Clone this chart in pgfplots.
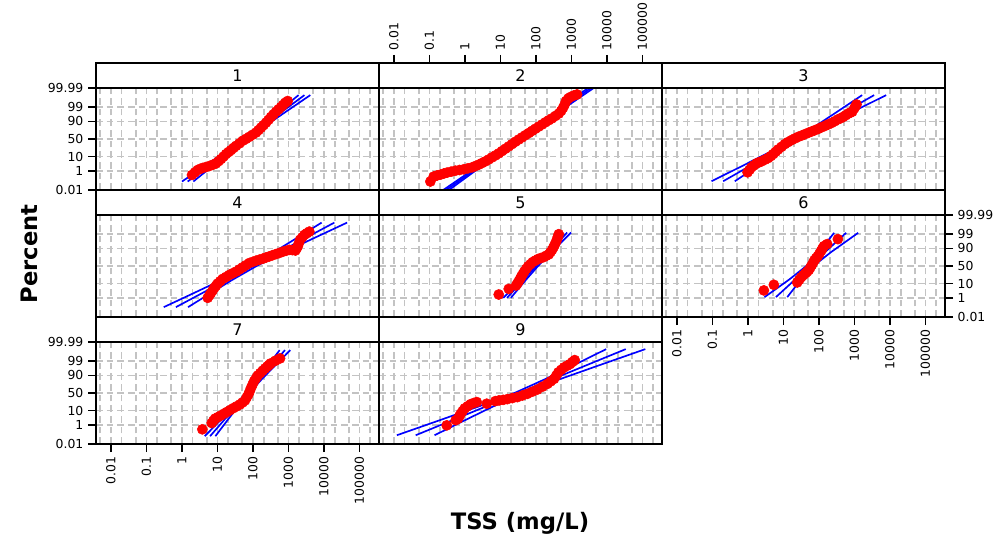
\documentclass[border=0pt]{standalone}
\usepackage{pgfplots}
\pgfplotsset{compat=1.18}
\usepackage{fontspec}
\setmainfont{DejaVu Sans}
\definecolor{gridgray}{RGB}{195,195,195}
\definecolor{dotred}{RGB}{255,0,0}
\definecolor{fitblue}{RGB}{0,0,255}
\pgfplotsset{
  panel/.style={
    anchor=south west, scale only axis,
    width=212.25pt, height=76.5pt,
    xmin=-2.42, xmax=5.55, ymin=-3.719, ymax=3.719,
    axis line style={line width=1.5pt},
    xtick={-2,-1,0,1,2,3,4,5},
    minor xtick={-2.301,-1.699,-1.301,-0.699,-0.301,0.301,0.699,1.301,1.699,2.301,2.699,3.301,3.699,4.301,4.699,5.301},
    ytick={-3.719,-2.326,-1.2816,0,1.2816,2.326,3.719},
    xmajorgrids, xminorgrids, ymajorgrids,
    major grid style={gridgray, line width=1.3pt, dash pattern=on 5pt off 3pt},
    minor grid style={gridgray, line width=1.3pt, dash pattern=on 5pt off 3pt},
    tick align=outside, major tick length=6pt, minor tick length=0pt,
    xtick style={draw=none}, ytick style={draw=none},
    xticklabel=\empty, yticklabel=\empty,
    tick label style={font=\fontsize{9.3}{11}\selectfont},
  },
  xbottom/.style={xtick pos=left, xticklabel pos=left, xtick style={draw=black, line width=1.2pt},
    xticklabels={0.01,0.1,1,10,100,1000,10000,100000}, xticklabel style={rotate=90, anchor=east}},
  xtop/.style={xtick pos=right, xticklabel pos=right, xtick style={draw=black, line width=1.2pt},
    xticklabels={0.01,0.1,1,10,100,1000,10000,100000}, xticklabel style={rotate=90, anchor=west}},
  yleft/.style={ytick pos=left, yticklabel pos=left, ytick style={draw=black, line width=1.2pt},
    yticklabels={0.01,1,10,50,90,99,99.99}},
  yright/.style={ytick pos=right, yticklabel pos=right, ytick style={draw=black, line width=1.2pt},
    yticklabels={0.01,1,10,50,90,99,99.99}},
  fitline/.style={fitblue, line width=1.25pt, no marks},
  dots/.style={only marks, mark=*, mark size=3.8pt, color=dotred, mark options={fill=dotred, draw=dotred}},
}
\begin{document}
\begin{tikzpicture}
\useasboundingbox (0pt,0pt) rectangle (747.75pt,408pt);
% x = log10 TSS (mg/L), y = normal score of the percent
% ---------- Panel 1
\begin{axis}[panel, yleft, at={(72pt,265.5pt)}]
\addplot[fitline] coordinates {(0.162,-3.1) (3.450,3.2)};
\addplot[fitline] coordinates {(0.002,-3.1) (0.626,-2) (1.188,-1) (1.730,0) (2.232,1) (2.714,2) (3.285,3.2)};
\addplot[fitline] coordinates {(0.322,-3.1) (0.846,-2) (1.328,-1) (1.830,0) (2.372,1) (2.934,2) (3.615,3.2)};
\addplot[dots] coordinates {(0.284,-2.62) (0.364,-2.44) (0.444,-2.26) (0.515,-2.18) (0.585,-2.11) (0.680,-2.04) (0.773,-1.97) (0.867,-1.88) (0.960,-1.78) (1.030,-1.62) (1.101,-1.46) (1.172,-1.28) (1.242,-1.10) (1.313,-0.95) (1.383,-0.81) (1.454,-0.65) (1.524,-0.50) (1.620,-0.32) (1.711,-0.13) (1.805,0.01) (1.899,0.157) (1.990,0.31) (2.087,0.47) (2.158,0.65) (2.228,0.83) (2.299,1.01) (2.369,1.196) (2.439,1.40) (2.509,1.61) (2.580,1.80) (2.650,1.99) (2.720,2.16) (2.791,2.33) (2.852,2.49) (2.913,2.65) (2.979,2.77)};
\end{axis}
% ---------- Panel 2
\begin{axis}[panel, at={(284.25pt,265.5pt)}]
\addplot[fitline] coordinates {(-0.531,-3.72) (3.547,3.72)};
\addplot[fitline] coordinates {(-0.611,-3.72) (0.362,-2) (1.478,0) (2.554,2) (3.467,3.72)};
\addplot[fitline] coordinates {(-0.451,-3.72) (0.462,-2) (1.538,0) (2.654,2) (3.627,3.72)};
\addplot[dots] coordinates {(-0.973,-3.10) (-0.879,-2.74) (-0.785,-2.66) (-0.691,-2.60) (-0.597,-2.52) (-0.503,-2.45) (-0.386,-2.38) (-0.268,-2.31) (-0.151,-2.26) (-0.034,-2.21) (0.083,-2.14) (0.201,-2.07) (0.295,-1.97) (0.389,-1.87) (0.483,-1.75) (0.577,-1.63) (0.670,-1.49) (0.764,-1.34) (0.858,-1.20) (0.952,-1.05) (1.046,-0.88) (1.140,-0.71) (1.234,-0.54) (1.328,-0.37) (1.422,-0.20) (1.516,-0.036) (1.610,0.12) (1.703,0.278) (1.797,0.435) (1.891,0.592) (1.985,0.75) (2.079,0.906) (2.173,1.06) (2.267,1.22) (2.361,1.37) (2.455,1.51) (2.549,1.68) (2.643,1.85) (2.710,2.05) (2.765,2.28) (2.810,2.52) (2.849,2.77) (2.910,2.95) (2.971,3.06) (3.065,3.17) (3.159,3.25)};
\end{axis}
% top scale of panel 2, on its header strip
\begin{axis}[panel, xtop, at={(284.25pt,342pt)}, height=18.75pt, ymin=0, ymax=1, ytick=\empty,
  xmajorgrids=false, xminorgrids=false, ymajorgrids=false, axis line style={draw=none}]
\end{axis}
% ---------- Panel 3
\begin{axis}[panel, at={(496.5pt,265.5pt)}]
\addplot[fitline] coordinates {(-0.697,-3.08) (3.554,3.2)};
\addplot[fitline] coordinates {(-1.024,-3.08) (-0.187,-2) (0.581,-1) (1.308,0) (1.935,1) (2.521,2) (3.215,3.2)};
\addplot[fitline] coordinates {(-0.370,-3.08) (0.255,-2) (0.841,-1) (1.468,0) (2.195,1) (2.963,2) (3.893,3.2)};
\addplot[dots] coordinates {(-0.011,-2.43) (0.045,-2.25) (0.101,-2.06) (0.172,-1.92) (0.242,-1.78) (0.313,-1.70) (0.383,-1.63) (0.477,-1.51) (0.571,-1.39) (0.642,-1.25) (0.712,-1.10) (0.782,-0.93) (0.852,-0.76) (0.946,-0.57) (1.040,-0.37) (1.134,-0.22) (1.228,-0.08) (1.322,0.04) (1.416,0.157) (1.510,0.25) (1.604,0.35) (1.698,0.45) (1.791,0.544) (1.885,0.64) (1.979,0.737) (2.073,0.85) (2.167,0.954) (2.261,1.06) (2.355,1.17) (2.449,1.30) (2.543,1.44) (2.613,1.52) (2.683,1.61) (2.754,1.73) (2.824,1.85) (2.880,1.92) (2.937,1.99) (2.993,2.23) (3.026,2.38) (3.059,2.52)};
\end{axis}
% ---------- Panel 4
\begin{axis}[panel, at={(72pt,170.25pt)}]
\addplot[fitline] coordinates {(-0.170,-3.0) (4.293,3.165)};
\addplot[fitline] coordinates {(-0.512,-3.0) (0.314,-2) (1.130,-1) (1.902,0) (2.578,1) (3.210,2) (3.934,3.165)};
\addplot[fitline] coordinates {(0.172,-3.0) (0.794,-2) (1.426,-1) (2.102,0) (2.874,1) (3.690,2) (4.652,3.165)};
\addplot[dots] coordinates {(0.726,-2.32) (0.772,-2.14) (0.819,-1.96) (0.866,-1.78) (0.913,-1.59) (0.960,-1.44) (1.007,-1.28) (1.077,-1.11) (1.148,-0.94) (1.242,-0.80) (1.336,-0.65) (1.430,-0.53) (1.524,-0.41) (1.618,-0.25) (1.711,-0.096) (1.805,0.06) (1.899,0.218) (1.993,0.30) (2.087,0.387) (2.181,0.46) (2.275,0.532) (2.369,0.62) (2.463,0.701) (2.557,0.79) (2.650,0.87) (2.744,0.95) (2.838,1.04) (2.932,1.11) (3.026,1.18) (3.110,1.16) (3.195,1.13) (3.228,1.28) (3.261,1.43) (3.294,1.67) (3.327,1.91) (3.388,2.09) (3.449,2.27) (3.519,2.39) (3.589,2.51)};
\end{axis}
% ---------- Panel 5
\begin{axis}[panel, at={(284.25pt,170.25pt)}]
\addplot[fitline] coordinates {(1.187,-2.32) (2.877,2.44)};
\addplot[fitline] coordinates {(1.080,-2.32) (1.591,-1) (1.961,0) (2.301,1) (2.765,2.44)};
\addplot[fitline] coordinates {(1.294,-2.32) (1.721,-1) (2.061,0) (2.431,1) (2.989,2.44)};
\addplot[dots] coordinates {(0.952,-2.08) (1.234,-1.67) (1.440,-1.42) (1.478,-1.27) (1.516,-1.11) (1.554,-0.93) (1.591,-0.75) (1.633,-0.57) (1.675,-0.39) (1.727,-0.21) (1.779,-0.024) (1.845,0.13) (1.910,0.29) (1.985,0.40) (2.060,0.51) (2.140,0.58) (2.220,0.65) (2.290,0.75) (2.361,0.846) (2.408,1.01) (2.455,1.18) (2.493,1.36) (2.530,1.55) (2.563,1.75) (2.596,1.96) (2.619,2.14) (2.642,2.32)};
\end{axis}
% ---------- Panel 6
\begin{axis}[panel, xbottom, yright, at={(496.5pt,170.25pt)}]
\addplot[fitline] coordinates {(0.787,-2.27) (2.766,2.42)};
\addplot[fitline] coordinates {(0.467,-2.27) (1.156,-1) (1.645,0) (2.000,1) (2.427,2.42)};
\addplot[fitline] coordinates {(1.107,-2.27) (1.490,-1) (1.845,0) (2.334,1) (3.105,2.42)};
\addplot[dots] coordinates {(0.449,-1.78) (0.730,-1.37) (1.388,-1.20) (1.444,-1.01) (1.500,-0.82) (1.561,-0.67) (1.622,-0.53) (1.669,-0.41) (1.716,-0.29) (1.758,-0.11) (1.801,0.075) (1.838,0.26) (1.876,0.44) (1.923,0.58) (1.970,0.73) (2.017,0.92) (2.064,1.11) (2.100,1.28) (2.139,1.45) (2.233,1.60) (2.533,1.96)};
\end{axis}
% ---------- Panel 7
\begin{axis}[panel, xbottom, yleft, at={(72pt,75pt)}]
\addplot[fitline] coordinates {(0.792,-3.15) (2.902,3.13)};
\addplot[fitline] coordinates {(0.642,-3.15) (1.078,-2) (1.453,-1) (1.810,0) (2.125,1) (2.422,2) (2.753,3.13)};
\addplot[fitline] coordinates {(0.942,-3.15) (1.278,-2) (1.575,-1) (1.890,0) (2.247,1) (2.622,2) (3.051,3.13)};
\addplot[dots] coordinates {(0.575,-2.65) (0.838,-2.19) (0.885,-2.03) (0.932,-1.87) (1.012,-1.76) (1.092,-1.65) (1.177,-1.52) (1.261,-1.39) (1.355,-1.25) (1.449,-1.10) (1.543,-0.97) (1.636,-0.83) (1.707,-0.69) (1.777,-0.54) (1.824,-0.32) (1.871,-0.109) (1.909,0.13) (1.946,0.374) (1.989,0.62) (2.031,0.857) (2.083,1.06) (2.134,1.27) (2.205,1.45) (2.275,1.63) (2.341,1.79) (2.406,1.94) (2.453,2.05) (2.500,2.16) (2.630,2.35) (2.763,2.52)};
\end{axis}
% ---------- Panel 9
\begin{axis}[panel, at={(284.25pt,75pt)}]
\addplot[fitline] coordinates {(-1.386,-3.08) (4.529,3.2)};
\addplot[fitline] coordinates {(-1.917,-3.08) (-0.726,-2) (0.367,-1) (1.395,0) (2.251,1) (3.042,2) (3.978,3.2)};
\addplot[fitline] coordinates {(-0.855,-3.08) (-0.012,-2) (0.779,-1) (1.635,0) (2.663,1) (3.756,2) (5.080,3.2)};
\addplot[dots] coordinates {(-0.513,-2.36) (-0.260,-1.98) (-0.194,-1.87) (-0.157,-1.69) (-0.119,-1.51) (-0.062,-1.31) (-0.006,-1.12) (0.078,-0.96) (0.163,-0.81) (0.248,-0.73) (0.332,-0.66) (0.614,-0.78) (0.858,-0.59) (0.961,-0.54) (1.078,-0.50) (1.196,-0.447) (1.337,-0.37) (1.478,-0.30) (1.618,-0.18) (1.759,-0.061) (1.900,0.10) (2.041,0.253) (2.182,0.46) (2.323,0.664) (2.416,0.85) (2.510,1.03) (2.571,1.27) (2.632,1.51) (2.712,1.69) (2.792,1.87) (2.876,1.99) (2.961,2.11) (3.026,2.26) (3.092,2.40)};
\end{axis}
% ---------- panel headers and titles
\begin{scope}[x=0.75pt,y=0.75pt,every node/.style={font=\fontsize{12}{14}\selectfont}]
\draw[line width=1.5pt, fill=white] (96,456) rectangle (379,481);
\draw[line width=1.5pt, fill=white] (379,456) rectangle (662,481);
\draw[line width=1.5pt, fill=white] (662,456) rectangle (945,481);
\draw[line width=1.5pt, fill=white] (96,329) rectangle (379,354);
\draw[line width=1.5pt, fill=white] (379,329) rectangle (662,354);
\draw[line width=1.5pt, fill=white] (662,329) rectangle (945,354);
\draw[line width=1.5pt, fill=white] (96,202) rectangle (379,227);
\draw[line width=1.5pt, fill=white] (379,202) rectangle (662,227);
\node at (237.5,468.5) {1};
\node at (520.5,468.5) {2};
\node at (803.5,468.5) {3};
\node at (237.5,341.5) {4};
\node at (520.5,341.5) {5};
\node at (803.5,341.5) {6};
\node at (237.5,214.5) {7};
\node at (520.5,214.5) {9};
\node[rotate=90, font=\bfseries\fontsize{17}{20}\selectfont] at (29,290) {Percent};
\node[font=\bfseries\fontsize{17}{20}\selectfont] at (520,21) {TSS (mg/L)};
\end{scope}
\end{tikzpicture}
\end{document}
